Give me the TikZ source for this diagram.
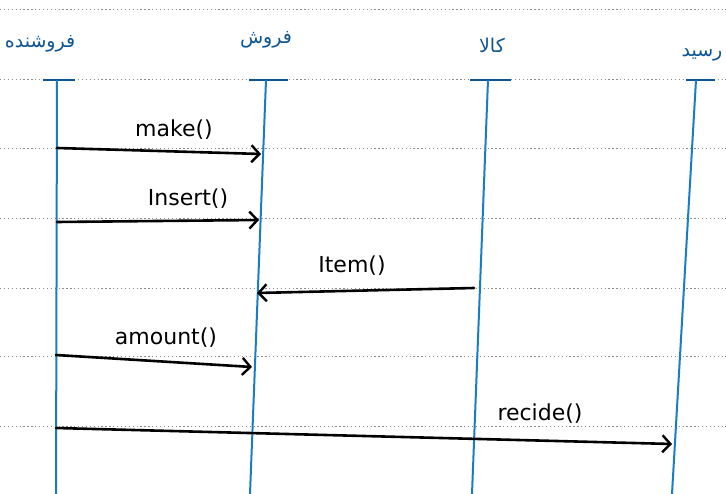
\documentclass[tikz,border=0pt]{standalone}
\usepackage{fontspec}
\setmainfont{DejaVu Sans}
\newfontfamily\arabicfont[Script=Arabic]{DejaVu Sans}
\TeXXeTstate=1
\usetikzlibrary{arrows.meta}
\definecolor{ruling}{RGB}{140,140,140}
\definecolor{lifeblue}{RGB}{25,125,195}
\definecolor{inkblue}{RGB}{15,85,145}
\tikzset{
  ruleline/.style={draw=ruling, line width=1pt, dash pattern=on 1.3pt off 2.6pt},
  lifeline/.style={draw=lifeblue, line width=2pt},
  headbar/.style={draw=inkblue, line width=2.4pt},
  actor/.style={text=inkblue, font=\arabicfont\fontsize{19}{22}\selectfont, inner sep=0pt},
  msg/.style={draw=black, line width=2.6pt, line cap=round,
    -{Straight Barb[length=8pt, width=17pt, line width=2.4pt]}},
  msglabel/.style={text=black, font=\fontsize{22}{26}\selectfont, inner sep=0pt}
}
\begin{document}
\begin{tikzpicture}[x=1pt, y=-1pt]
  \useasboundingbox[fill=white] (0,0) rectangle (726,494);

  % ruled paper
  \foreach \yy in {10,80,149,219,289,357,426} {
    \draw[ruleline] (0,\yy) -- (726,\yy);
  }

  % participants
  \node[actor] (seller) at (40,44) {\beginR فروشنده\endR};
  \node[actor] (sale)   at (266,40) {\beginR فروش\endR};
  \node[actor] (goods)  at (492,45) {\beginR کالا\endR};
  \node[actor] (receipt) at (702,55) {\beginR رسید\endR};

  % lifeline ends
  \coordinate (l1t) at (57,80);  \coordinate (l1b) at (56,494);
  \coordinate (l2t) at (266,80); \coordinate (l2b) at (250,494);
  \coordinate (l3t) at (488,80); \coordinate (l3b) at (472,494);
  \coordinate (l4t) at (696,80); \coordinate (l4b) at (672,494);

  % head bars
  \draw[headbar] (43,80) -- (75,80);
  \draw[headbar] (249,80) -- (288,80);
  \draw[headbar] (470,80) -- (511,80);
  \draw[headbar] (686,80) -- (715,80);

  % lifelines
  \draw[lifeline] (l1t) -- (l1b);
  \draw[lifeline] (l2t) -- (l2b);
  \draw[lifeline] (l3t) -- (l3b);
  \draw[lifeline] (l4t) -- (l4b);

  % message end points
  \coordinate (m1s) at (57,148);  \coordinate (m1e) at (261,154);
  \coordinate (m2s) at (57,222);  \coordinate (m2e) at (259,220);
  \coordinate (m3s) at (474,288); \coordinate (m3e) at (257,293);
  \coordinate (m4s) at (56,355);  \coordinate (m4e) at (252,367);
  \coordinate (m5s) at (56,428);  \coordinate (m5e) at (672,444);

  % messages
  \draw[msg] (m1s) -- (m1e);
  \draw[msg] (m2s) -- (m2e);
  \draw[msg] (m3s) -- (m3e);
  \draw[msg] (m4s) -- (m4e);
  \draw[msg] (m5s) -- (m5e);

  % message labels
  \node[msglabel] (lmake)   at (174,130) {make()};
  \node[msglabel] (linsert) at (188,199) {Insert()};
  \node[msglabel] (litem)   at (352,266) {Item()};
  \node[msglabel] (lamount) at (166,338) {amount()};
  \node[msglabel] (lrecide) at (540,414) {recide()};
\end{tikzpicture}
\end{document}
